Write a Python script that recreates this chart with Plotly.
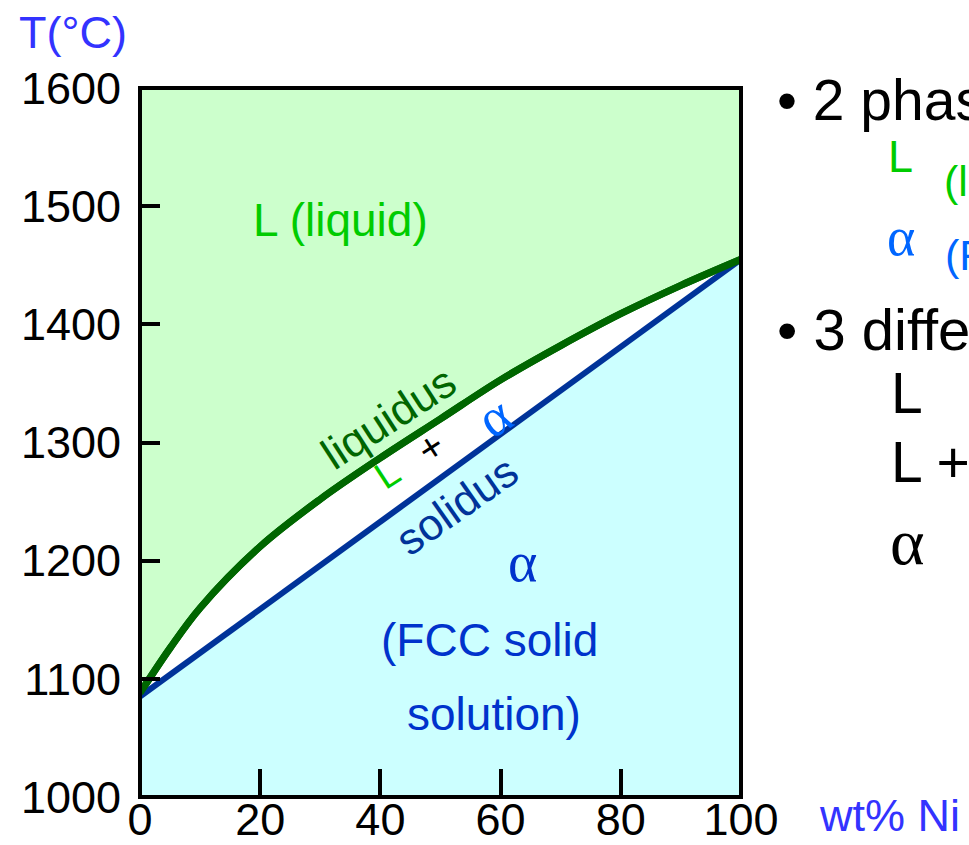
import plotly.graph_objects as go

# Cu-Ni isomorphous phase diagram
ni_wt = [0, 5, 10, 20, 30, 40, 50, 60, 70, 80, 90, 100]
liquidus_T = [1088, 1126, 1160, 1212, 1252, 1287, 1320, 1353, 1382, 1409, 1433, 1455]
solidus_ni = [0, 20, 40, 60, 80, 100]
solidus_T = [1085, 1159, 1233, 1307, 1381, 1455]

x_range = [0, 100]
y_range = [1000, 1600]
x_ticks = [0, 20, 40, 60, 80, 100]
y_ticks = [1000, 1100, 1200, 1300, 1400, 1500, 1600]

SANS = "Liberation Sans, Arial, sans-serif"
SERIF = "Liberation Serif, Times New Roman, serif"
LIQ_FILL = "#ccffcc"
SOL_FILL = "#ccffff"
LIQ_LINE = "#006600"
SOL_LINE = "#003399"
GREEN = "#00cc00"
BLUE = "#0066ff"
DEEP_BLUE = "#0033cc"
AXIS_BLUE = "#3333ff"

fig = go.Figure()

# liquid region: between the top of the range and the liquidus
fig.add_trace(go.Scatter(x=x_range, y=[y_range[1]] * 2, mode="lines",
                         line=dict(width=0), hoverinfo="skip", showlegend=False))
fig.add_trace(go.Scatter(x=ni_wt, y=liquidus_T, mode="lines", fill="tonexty",
                         fillcolor=LIQ_FILL,
                         line=dict(color=LIQ_LINE, width=7, shape="spline", smoothing=1.0),
                         showlegend=False))
# solid region: between the solidus and the bottom of the range
fig.add_trace(go.Scatter(x=x_range, y=[y_range[0]] * 2, mode="lines",
                         line=dict(width=0), hoverinfo="skip", showlegend=False))
fig.add_trace(go.Scatter(x=solidus_ni, y=solidus_T, mode="lines", fill="tonexty",
                         fillcolor=SOL_FILL, line=dict(color=SOL_LINE, width=6),
                         showlegend=False))
# redraw liquidus on top so the solid fill never hides it
fig.add_trace(go.Scatter(x=ni_wt, y=liquidus_T, mode="lines",
                         line=dict(color=LIQ_LINE, width=7, shape="spline", smoothing=1.0),
                         showlegend=False))

def note(text, x, y, size, color, family=SANS, angle=0, ref="data", xanchor="center"):
    fig.add_annotation(text=text, x=x, y=y, showarrow=False, textangle=angle,
                       xref="x" if ref == "data" else "paper",
                       yref="y" if ref == "data" else "paper",
                       xanchor=xanchor, yanchor="middle",
                       font=dict(family=family, size=size, color=color))

# labels inside the diagram
note("L (liquid)", 33.4, 1488, 46, GREEN)
note("liquidus", 41.3, 1321, 44, LIQ_LINE, angle=-33)
note("solidus", 52.6, 1247, 44, SOL_LINE, angle=-35)
note("L", 41.1, 1273, 38, GREEN, angle=-33)
note("+", 48.4, 1296, 40, "black", angle=-33)
note("α", 58.9, 1322, 54, BLUE, family=SERIF, angle=-33)
note("α", 63.7, 1199, 56, DEEP_BLUE, family=SERIF)
note("(FCC solid", 58.1, 1133, 46, DEEP_BLUE)
note("solution)", 58.9, 1070, 46, DEEP_BLUE)

# axis titles
note("T(°C)", -0.111, 1.0776, 45, AXIS_BLUE, ref="paper")
note("wt% Ni", 1.1265, -0.0254, 45, AXIS_BLUE, ref="paper", xanchor="left")

# side notes
note("• 2 phases:", 1.0566, 0.983, 57, "black", ref="paper", xanchor="left")
note("L", 1.266, 0.9027, 45, GREEN, ref="paper")
note("(liquid)", 1.3344, 0.8688, 43, GREEN, ref="paper", xanchor="left")
note("α", 1.266, 0.7898, 54, BLUE, family=SERIF, ref="paper")
note("(FCC solid solution)", 1.336, 0.7645, 43, BLUE, ref="paper", xanchor="left")
note("• 3 different phase fields:", 1.0566, 0.6587, 58, "black", ref="paper", xanchor="left")
note("L", 1.246, 0.5698, 57, "black", ref="paper", xanchor="left")
note("L + α", 1.246, 0.4725, 57, "black", ref="paper", xanchor="left")
note("α", 1.244, 0.3597, 66, "black", family=SERIF, ref="paper", xanchor="left")

# plot frame
fig.add_shape(type="rect", xref="paper", yref="paper", x0=0, y0=0, x1=1, y1=1,
              line=dict(color="black", width=4), layer="above")

fig.update_layout(
    width=969, height=845,
    margin=dict(l=140, r=228, t=88, b=48, autoexpand=False),
    paper_bgcolor="white", plot_bgcolor="white",
    font=dict(family=SANS, size=45, color="black"),
    xaxis=dict(range=x_range, tickvals=x_ticks, ticks="inside", ticklen=28,
               tickwidth=4, tickcolor="black", showgrid=False, zeroline=False,
               showline=False, tickfont=dict(size=45, color="black", family=SANS),
               ticklabelstandoff=-8, automargin=False, fixedrange=True),
    yaxis=dict(range=y_range, tickvals=y_ticks, ticks="inside", ticklen=20,
               tickwidth=4, tickcolor="black", showgrid=False, zeroline=False,
               showline=False, tickfont=dict(size=45, color="black", family=SANS),
               ticklabelstandoff=18, automargin=False, fixedrange=True),
)

fig.write_html("out.html")
